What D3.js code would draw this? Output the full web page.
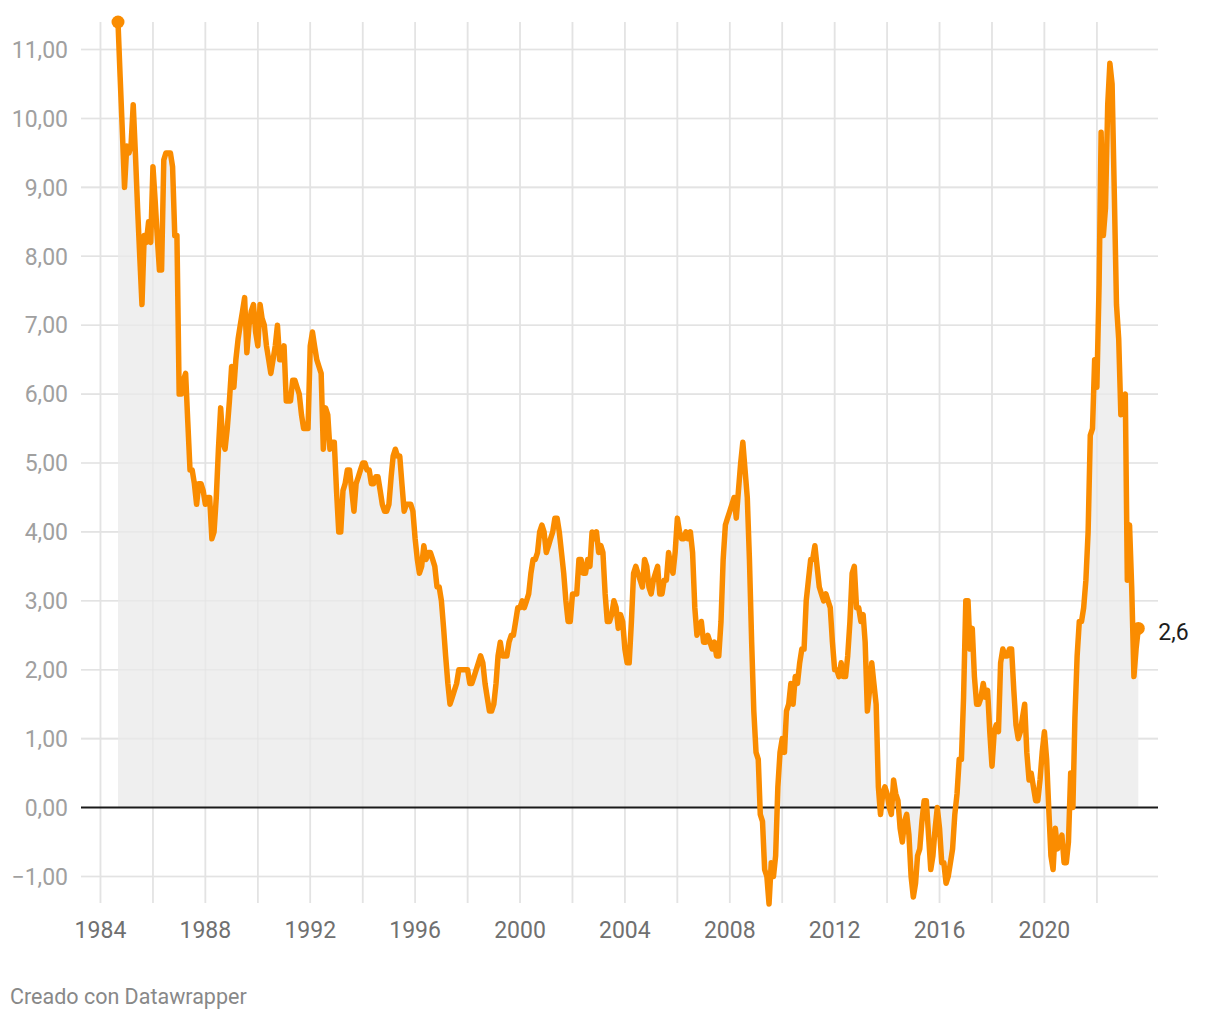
<!DOCTYPE html>
<html><head><meta charset="utf-8">
<script src="https://cdn.jsdelivr.net/npm/d3@7"></script>
<style>
body{margin:0;background:#fff;}
svg{display:block;font-family:Roboto,"Noto Sans",sans-serif;}
</style>
</head><body>
<svg id="chart" width="1220" height="1020"></svg>
<script>
// Monthly annual CPI rate (%), first value = September 1984
const firstYear = 1984, firstMonth = 8;
const v1984 = [11.4, 10.6, 9.8, 9.0];
const v1985 = [9.6, 9.5, 9.6, 10.2, 9.5, 8.7, 8.0, 7.3, 8.3, 8.2, 8.5, 8.2];
const v1986 = [9.3, 8.8, 8.3, 7.8, 7.8, 9.4, 9.5, 9.5, 9.5, 9.3, 8.3, 8.3];
const v1987 = [6.0, 6.0, 6.2, 6.3, 5.6, 4.9, 4.9, 4.7, 4.4, 4.7, 4.7, 4.6];
const v1988 = [4.4, 4.5, 4.5, 3.9, 4.0, 4.5, 5.2, 5.8, 5.3, 5.2, 5.5, 5.9];
const v1989 = [6.4, 6.1, 6.5, 6.8, 7.0, 7.2, 7.4, 6.6, 7.0, 7.2, 7.3, 6.9];
const v1990 = [6.7, 7.3, 7.1, 7.0, 6.7, 6.5, 6.3, 6.5, 6.7, 7.0, 6.5, 6.5];
const v1991 = [6.7, 5.9, 5.9, 5.9, 6.2, 6.2, 6.1, 6.0, 5.7, 5.5, 5.5, 5.5];
const v1992 = [6.7, 6.9, 6.7, 6.5, 6.4, 6.3, 5.2, 5.8, 5.7, 5.2, 5.3, 5.3];
const v1993 = [4.6, 4.0, 4.0, 4.6, 4.7, 4.9, 4.9, 4.6, 4.3, 4.7, 4.8, 4.9];
const v1994 = [5.0, 5.0, 4.9, 4.9, 4.7, 4.7, 4.8, 4.8, 4.6, 4.4, 4.3, 4.3];
const v1995 = [4.4, 4.8, 5.1, 5.2, 5.1, 5.1, 4.7, 4.3, 4.4, 4.4, 4.4, 4.3];
const v1996 = [3.9, 3.6, 3.4, 3.5, 3.8, 3.6, 3.7, 3.7, 3.6, 3.5, 3.2, 3.2];
const v1997 = [3.0, 2.6, 2.2, 1.8, 1.5, 1.6, 1.7, 1.8, 2.0, 2.0, 2.0, 2.0];
const v1998 = [2.0, 1.8, 1.8, 1.9, 2.0, 2.1, 2.2, 2.1, 1.8, 1.6, 1.4, 1.4];
const v1999 = [1.5, 1.8, 2.2, 2.4, 2.2, 2.2, 2.2, 2.4, 2.5, 2.5, 2.7, 2.9];
const v2000 = [2.9, 3.0, 2.9, 3.0, 3.1, 3.4, 3.6, 3.6, 3.7, 4.0, 4.1, 4.0];
const v2001 = [3.7, 3.8, 3.9, 4.0, 4.2, 4.2, 4.0, 3.7, 3.4, 3.0, 2.7, 2.7];
const v2002 = [3.1, 3.1, 3.1, 3.6, 3.6, 3.4, 3.4, 3.6, 3.5, 4.0, 3.9, 4.0];
const v2003 = [3.7, 3.8, 3.7, 3.1, 2.7, 2.7, 2.8, 3.0, 2.9, 2.6, 2.8, 2.7];
const v2004 = [2.3, 2.1, 2.1, 2.7, 3.4, 3.5, 3.4, 3.3, 3.2, 3.6, 3.5, 3.2];
const v2005 = [3.1, 3.3, 3.4, 3.5, 3.1, 3.1, 3.3, 3.3, 3.7, 3.5, 3.4, 3.7];
const v2006 = [4.2, 4.0, 3.9, 3.9, 4.0, 3.9, 4.0, 3.7, 2.9, 2.5, 2.6, 2.7];
const v2007 = [2.4, 2.4, 2.5, 2.4, 2.3, 2.4, 2.2, 2.2, 2.7, 3.6, 4.1, 4.2];
const v2008 = [4.3, 4.4, 4.5, 4.2, 4.6, 5.0, 5.3, 4.9, 4.5, 3.6, 2.4, 1.4];
const v2009 = [0.8, 0.7, -0.1, -0.2, -0.9, -1.0, -1.4, -0.8, -1.0, -0.7, 0.3, 0.8];
const v2010 = [1.0, 0.8, 1.4, 1.5, 1.8, 1.5, 1.9, 1.8, 2.1, 2.3, 2.3, 3.0];
const v2011 = [3.3, 3.6, 3.6, 3.8, 3.5, 3.2, 3.1, 3.0, 3.1, 3.0, 2.9, 2.4];
const v2012 = [2.0, 2.0, 1.9, 2.1, 1.9, 1.9, 2.2, 2.7, 3.4, 3.5, 2.9, 2.9];
const v2013 = [2.7, 2.8, 2.4, 1.4, 1.7, 2.1, 1.8, 1.5, 0.3, -0.1, 0.2, 0.3];
const v2014 = [0.2, 0.0, -0.1, 0.4, 0.2, 0.1, -0.3, -0.5, -0.2, -0.1, -0.4, -1.0];
const v2015 = [-1.3, -1.1, -0.7, -0.6, -0.2, 0.1, 0.1, -0.4, -0.9, -0.7, -0.3, 0.0];
const v2016 = [-0.3, -0.8, -0.8, -1.1, -1.0, -0.8, -0.6, -0.1, 0.2, 0.7, 0.7, 1.6];
const v2017 = [3.0, 3.0, 2.3, 2.6, 1.9, 1.5, 1.5, 1.6, 1.8, 1.6, 1.7, 1.1];
const v2018 = [0.6, 1.1, 1.2, 1.1, 2.1, 2.3, 2.2, 2.2, 2.3, 2.3, 1.7, 1.2];
const v2019 = [1.0, 1.1, 1.3, 1.5, 0.8, 0.4, 0.5, 0.3, 0.1, 0.1, 0.4, 0.8];
const v2020 = [1.1, 0.7, 0.0, -0.7, -0.9, -0.3, -0.6, -0.5, -0.4, -0.8, -0.8, -0.5];
const v2021 = [0.5, 0.0, 1.3, 2.2, 2.7, 2.7, 2.9, 3.3, 4.0, 5.4, 5.5, 6.5];
const v2022 = [6.1, 7.6, 9.8, 8.3, 8.7, 10.2, 10.8, 10.5, 8.9, 7.3, 6.8, 5.7];
const v2023 = [5.9, 6.0, 3.3, 4.1, 3.2, 1.9, 2.3, 2.6];

const yearSeries = [v1984, v1985, v1986, v1987, v1988, v1989, v1990, v1991, v1992, v1993,
  v1994, v1995, v1996, v1997, v1998, v1999, v2000, v2001, v2002, v2003, v2004, v2005,
  v2006, v2007, v2008, v2009, v2010, v2011, v2012, v2013, v2014, v2015, v2016, v2017,
  v2018, v2019, v2020, v2021, v2022, v2023];

const yTicks = [-1, 0, 1, 2, 3, 4, 5, 6, 7, 8, 9, 10, 11];
const xGridYears = d3.range(1984, 2023, 2);
const xLabelYears = [1984, 1988, 1992, 1996, 2000, 2004, 2008, 2012, 2016, 2020];
const lastLabel = "2,6";
const creditText = "Creado con Datawrapper";

// build records
const data = [];
yearSeries.forEach((arr, i) => {
  const yr = firstYear + i;
  const m0 = i === 0 ? firstMonth : 0;
  arr.forEach((v, j) => data.push({date: new Date(yr, m0 + j, 1), value: v}));
});

const svg = d3.select("#chart");
const x = d3.scaleTime()
  .domain([data[0].date, data[data.length - 1].date])
  .range([118, 1138.3]);
const y = d3.scaleLinear().domain([-1.4, 11.4]).range([904, 22]);

const gridColor = "#e4e4e4";
const fmt = d3.format(".2f");

// horizontal gridlines
svg.append("g").selectAll("line").data(yTicks.filter(d => d !== 0)).join("line")
  .attr("x1", 81).attr("x2", 1158)
  .attr("y1", d => y(d)).attr("y2", d => y(d))
  .attr("stroke", gridColor).attr("stroke-width", 1.6);

// vertical gridlines
svg.append("g").selectAll("line").data(xGridYears).join("line")
  .attr("x1", d => x(new Date(d, 0, 1))).attr("x2", d => x(new Date(d, 0, 1)))
  .attr("y1", 22).attr("y2", 903)
  .attr("stroke", gridColor).attr("stroke-width", 1.6);

// area
const area = d3.area().x(d => x(d.date)).y0(y(0)).y1(d => y(d.value));
svg.append("path").datum(data).attr("d", area).attr("fill", "#efefef");

// gridlines faintly visible through the area tint
svg.append("g").selectAll("line").data(yTicks.filter(d => d !== 0)).join("line")
  .attr("x1", 81).attr("x2", 1158)
  .attr("y1", d => y(d)).attr("y2", d => y(d))
  .attr("stroke", "#e2e2e2").attr("stroke-opacity", 0.6).attr("stroke-width", 1.6);
svg.append("g").selectAll("line").data(xGridYears).join("line")
  .attr("x1", d => x(new Date(d, 0, 1))).attr("x2", d => x(new Date(d, 0, 1)))
  .attr("y1", 22).attr("y2", 903)
  .attr("stroke", "#e2e2e2").attr("stroke-opacity", 0.6).attr("stroke-width", 1.6);

// zero line
svg.append("line").attr("x1", 81).attr("x2", 1158)
  .attr("y1", y(0)).attr("y2", y(0))
  .attr("stroke", "#1a1a1a").attr("stroke-width", 2);

// y labels
svg.append("g").selectAll("text").data(yTicks).join("text")
  .attr("x", 68).attr("y", d => y(d)).attr("dy", "0.36em")
  .attr("text-anchor", "end").attr("font-size", 23).attr("fill", "#a0a0a0")
  .text(d => (d < 0 ? "\u2212" : "") + fmt(Math.abs(d)).replace(".", ","));

// x labels
svg.append("g").selectAll("text").data(xLabelYears).join("text")
  .attr("x", d => x(new Date(d, 0, 1))).attr("y", 938)
  .attr("text-anchor", "middle").attr("font-size", 23).attr("fill", "#707070")
  .text(d => d);

// line
const line = d3.line().x(d => x(d.date)).y(d => y(d.value));
svg.append("path").datum(data).attr("d", line)
  .attr("fill", "none").attr("stroke", "#fa8c00").attr("stroke-width", 5.5)
  .attr("stroke-linejoin", "round").attr("stroke-linecap", "round");

// end markers
const ends = [data[0], data[data.length - 1]];
svg.append("g").selectAll("circle").data(ends).join("circle")
  .attr("cx", d => x(d.date)).attr("cy", d => y(d.value)).attr("r", 6.5)
  .attr("fill", "#fa8c00");

// last value label
const last = data[data.length - 1];
svg.append("text").attr("x", x(last.date) + 20).attr("y", y(last.value) + 3).attr("dy", "0.36em")
  .attr("font-size", 23).attr("fill", "#1d1d1d").text(lastLabel);

// credit
svg.append("text").attr("x", 10).attr("y", 1004)
  .attr("font-size", 21.5).attr("fill", "#888888").text(creditText);
</script>
</body></html>
